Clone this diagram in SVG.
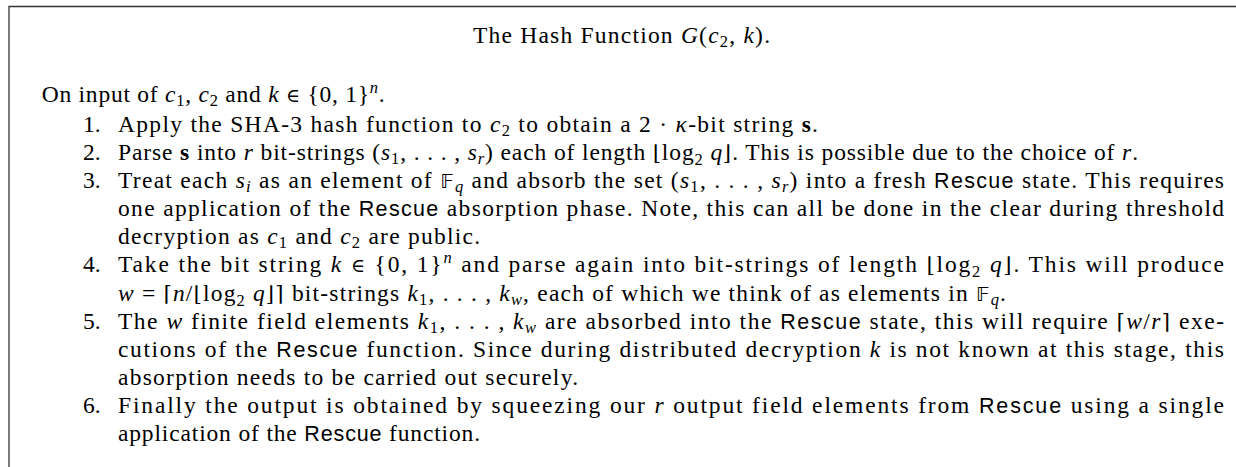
<svg xmlns="http://www.w3.org/2000/svg" width="1236" height="467" viewBox="0 0 1236 467">
<style>
.t{font-family:"Liberation Serif","Times New Roman",serif;font-size:23.5px;fill:#000}
.i{font-style:italic}
.b{font-weight:bold}
.sf{font-family:"Liberation Sans",Arial,sans-serif;font-size:21.5px}
.bb{font-family:"DejaVu Sans",sans-serif;font-size:20px}
.s{font-size:16.5px}
.m{font-family:"DejaVu Serif","Liberation Serif",serif;font-size:21px}
.e{font-family:"DejaVu Serif","Liberation Serif",serif;font-size:19px}
</style>
<rect width="1236" height="467" fill="#fff"/>
<path d="M9,467 V6.5 H1236" fill="none" stroke="#333" stroke-width="1.3"/>
<g id="title">
<text class="t" x="473" y="42.7" textLength="297" lengthAdjust="spacing">The Hash Function <tspan class="i">G</tspan>(<tspan class="i">c</tspan><tspan class="s" dy="4">2</tspan><tspan dy="-4">, </tspan><tspan class="i">k</tspan>).</text>
</g>
<g id="intro">
<text class="t" x="41.7" y="102" textLength="343" lengthAdjust="spacing">On input of <tspan class="i">c</tspan><tspan class="s" dy="4">1</tspan><tspan dy="-4">, </tspan><tspan class="i">c</tspan><tspan class="s" dy="4">2</tspan><tspan dy="-4"> and </tspan><tspan class="i">k</tspan> <tspan class="e">∈</tspan> {0, 1}<tspan class="s i" dy="-9">n</tspan><tspan dy="9">.</tspan></text>
</g>
<g id="labels">
<text class="t" x="83" y="131.5">1.</text>
<text class="t" x="83" y="159.7">2.</text>
<text class="t" x="83" y="187.8">3.</text>
<text class="t" x="83" y="272.4">4.</text>
<text class="t" x="83" y="328.7">5.</text>
<text class="t" x="83" y="413.2">6.</text>
</g>
<g id="items">
<text class="t" x="118" y="131.5" textLength="700" lengthAdjust="spacing">Apply the SHA-3 hash function to <tspan class="i">c</tspan><tspan class="s" dy="4">2</tspan><tspan dy="-4"> to obtain a 2 · </tspan><tspan class="i">κ</tspan>-bit string <tspan class="b">s</tspan>.</text>
<text class="t" x="118" y="159.7" textLength="1020" lengthAdjust="spacing">Parse <tspan class="b">s</tspan> into <tspan class="i">r</tspan> bit-strings (<tspan class="i">s</tspan><tspan class="s" dy="4">1</tspan><tspan dy="-4">, . . . , </tspan><tspan class="i">s</tspan><tspan class="s i" dy="4">r</tspan><tspan dy="-4">) each of length </tspan><tspan class="m">⌊</tspan>log<tspan class="s" dy="5">2</tspan><tspan dy="-5"> </tspan><tspan class="i">q</tspan><tspan class="m">⌋</tspan>. This is possible due to the choice of <tspan class="i">r</tspan>.</text>
<text class="t" x="118" y="187.8" textLength="1106" lengthAdjust="spacing">Treat each <tspan class="i">s</tspan><tspan class="s i" dy="4">i</tspan><tspan dy="-4"> as an element of </tspan><tspan class="bb">𝔽</tspan><tspan class="s i" dy="4">q</tspan><tspan dy="-4"> and absorb the set (</tspan><tspan class="i">s</tspan><tspan class="s" dy="4">1</tspan><tspan dy="-4">, . . . , </tspan><tspan class="i">s</tspan><tspan class="s i" dy="4">r</tspan><tspan dy="-4">) into a fresh </tspan><tspan class="sf">Rescue</tspan> state. This requires</text>
<text class="t" x="118" y="216" textLength="1106" lengthAdjust="spacing">one application of the <tspan class="sf">Rescue</tspan> absorption phase. Note, this can all be done in the clear during threshold</text>
<text class="t" x="118" y="244.2" textLength="362" lengthAdjust="spacing">decryption as <tspan class="i">c</tspan><tspan class="s" dy="4">1</tspan><tspan dy="-4"> and </tspan><tspan class="i">c</tspan><tspan class="s" dy="4">2</tspan><tspan dy="-4"> are public.</tspan></text>
<text class="t" x="118" y="272.4" textLength="1106" lengthAdjust="spacing">Take the bit string <tspan class="i">k</tspan> <tspan class="e">∈</tspan> {0, 1}<tspan class="s i" dy="-9">n</tspan><tspan dy="9"> and parse again into bit-strings of length </tspan><tspan class="m">⌊</tspan>log<tspan class="s" dy="5">2</tspan><tspan dy="-5"> </tspan><tspan class="i">q</tspan><tspan class="m">⌋</tspan>. This will produce</text>
<text class="t" x="118" y="300.5" textLength="888" lengthAdjust="spacing"><tspan class="i">w</tspan> = <tspan class="m">⌈</tspan><tspan class="i">n</tspan>/<tspan class="m">⌊</tspan>log<tspan class="s" dy="5">2</tspan><tspan dy="-5"> </tspan><tspan class="i">q</tspan><tspan class="m">⌋⌉</tspan> bit-strings <tspan class="i">k</tspan><tspan class="s" dy="4">1</tspan><tspan dy="-4">, . . . , </tspan><tspan class="i">k</tspan><tspan class="s i" dy="4">w</tspan><tspan dy="-4">, each of which we think of as elements in </tspan><tspan class="bb">𝔽</tspan><tspan class="s i" dy="4">q</tspan><tspan dy="-4">.</tspan></text>
<text class="t" x="118" y="328.7" textLength="1106" lengthAdjust="spacing">The <tspan class="i">w</tspan> finite field elements <tspan class="i">k</tspan><tspan class="s" dy="4">1</tspan><tspan dy="-4">, . . . , </tspan><tspan class="i">k</tspan><tspan class="s i" dy="4">w</tspan><tspan dy="-4"> are absorbed into the </tspan><tspan class="sf">Rescue</tspan> state, this will require <tspan class="m">⌈</tspan><tspan class="i">w</tspan>/<tspan class="i">r</tspan><tspan class="m">⌉</tspan> exe-</text>
<text class="t" x="118" y="356.9" textLength="1106" lengthAdjust="spacing">cutions of the <tspan class="sf">Rescue</tspan> function. Since during distributed decryption <tspan class="i">k</tspan> is not known at this stage, this</text>
<text class="t" x="118" y="385" textLength="460" lengthAdjust="spacing">absorption needs to be carried out securely.</text>
<text class="t" x="118" y="413.2" textLength="1106" lengthAdjust="spacing">Finally the output is obtained by squeezing our <tspan class="i">r</tspan> output field elements from <tspan class="sf">Rescue</tspan> using a single</text>
<text class="t" x="118" y="441.4" textLength="362" lengthAdjust="spacing">application of the <tspan class="sf">Rescue</tspan> function.</text>
</g>
</svg>
